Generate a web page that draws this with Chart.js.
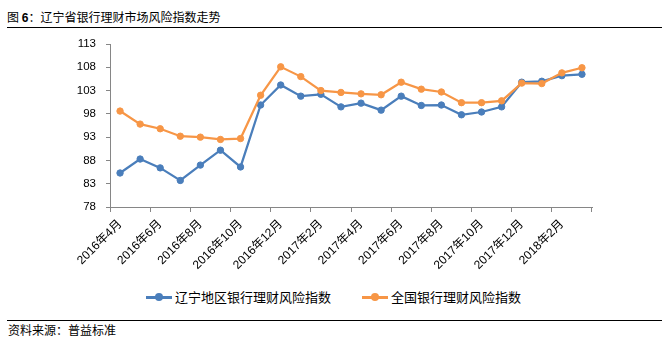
<!DOCTYPE html>
<html>
<head>
<meta charset="utf-8">
<title>辽宁省银行理财市场风险指数走势</title>
<script src="https://cdn.jsdelivr.net/npm/chart.js@4.4.1/dist/chart.umd.min.js"></script>
<style>
  body {
    margin: 0;
    width: 667px;
    height: 347px;
    position: relative;
    overflow: hidden;
    background: #fff;
    color: #000;
    font-family: "Noto Sans CJK SC", sans-serif;
  }
  .title {
    position: absolute;
    left: 7px;
    top: 10px;
    font-size: 12px;
    line-height: 14px;
    white-space: nowrap;
  }
  .title .num { font-family: "Liberation Sans", sans-serif; font-weight: bold; }
  .rule {
    position: absolute;
    left: 7px;
    width: 655px;
    height: 1px;
    background: #000;
  }
  #chart-box {
    position: absolute;
    left: 0;
    top: 0;
    width: 667px;
    height: 285px;
  }
  #legend {
    position: absolute;
    left: 0;
    top: 289px;
    width: 667px;
    display: flex;
    justify-content: center;
    gap: 31px;
    font-size: 13px;
    line-height: 16px;
  }
  .legend-item { display: flex; align-items: center; }
  .legend-mark {
    position: relative;
    width: 26px;
    height: 3px;
    margin-right: 3px;
  }
  .legend-mark i {
    position: absolute;
    left: 9px;
    top: -3px;
    width: 8px;
    height: 8px;
    border-radius: 50%;
  }
  .source {
    position: absolute;
    left: 8px;
    top: 322px;
    font-size: 12px;
    line-height: 15px;
  }
</style>
</head>
<body>
  <div class="title">图 <span class="num">6</span>：辽宁省银行理财市场风险指数走势</div>
  <div class="rule" style="top:27px"></div>
  <div id="chart-box"><canvas id="risk-chart"></canvas></div>
  <div id="legend"></div>
  <div class="rule" style="top:320px"></div>
  <div class="source">资料来源：普益标准</div>

<script>
// Monthly index values, Apr 2016 - Mar 2018
const months = [
    '2016年4月', '2016年5月', '2016年6月', '2016年7月', '2016年8月', '2016年9月',
    '2016年10月', '2016年11月', '2016年12月', '2017年1月', '2017年2月', '2017年3月',
    '2017年4月', '2017年5月', '2017年6月', '2017年7月', '2017年8月', '2017年9月',
    '2017年10月', '2017年11月', '2017年12月', '2018年1月', '2018年2月', '2018年3月'
];
const liaoningIndex = [
    85.3, 88.3, 86.4, 83.7, 87.0, 90.2, 86.6, 99.9, 104.2, 101.8, 102.2, 99.5,
    100.3, 98.8, 101.8, 99.8, 99.9, 97.8, 98.4, 99.5, 104.8, 105.0, 106.2, 106.5
];
const nationalIndex = [
    98.6, 95.8, 94.8, 93.2, 93.0, 92.5, 92.7, 102.0, 108.1, 106.0, 103.0, 102.6,
    102.3, 102.1, 104.8, 103.3, 102.7, 100.4, 100.4, 100.8, 104.6, 104.5, 106.8, 107.9
];
const seriesNames = ['辽宁地区银行理财风险指数', '全国银行理财风险指数'];
const seriesColors = ['#4a7ebb', '#f79646'];
const yTicks = { min: 78, max: 113, step: 5 };

const axisGray = '#868686';
const fontFamily = '"Liberation Sans", "Noto Sans CJK SC", sans-serif';

function lineSeries(label, data, color, order) {
    return {
        label: label,
        data: data,
        borderColor: color,
        backgroundColor: color,
        borderWidth: 2.25,
        pointRadius: 3.2,
        pointBorderWidth: 1,
        pointHoverRadius: 3.2,
        tension: 0,
        order: order
    };
}

const chart = new Chart(document.getElementById('risk-chart'), {
    type: 'line',
    data: {
        labels: months,
        datasets: [
            lineSeries(seriesNames[0], liaoningIndex, seriesColors[0], 1),
            lineSeries(seriesNames[1], nationalIndex, seriesColors[1], 0)
        ]
    },
    options: {
        responsive: true,
        maintainAspectRatio: false,
        animation: false,
        layout: { padding: { top: 44, right: 75, left: 0, bottom: 0 } },
        plugins: {
            legend: { display: false },
            tooltip: { enabled: false }
        },
        scales: {
            x: {
                type: 'category',
                offset: true,
                afterFit: scale => { scale.height = 78; },
                border: { color: axisGray, width: 1 },
                grid: {
                    offset: true,
                    drawOnChartArea: false,
                    tickLength: 5,
                    // tick marks only on every second month boundary
                    color: ctx => (ctx.index === undefined || ctx.index % 2 === 0) ? axisGray : 'rgba(0,0,0,0)'
                },
                ticks: {
                    autoSkip: false,
                    minRotation: 45,
                    maxRotation: 45,
                    padding: 5,
                    color: '#000',
                    font: { family: fontFamily, size: 12 },
                    callback: function(value, index) {
                        return index % 2 === 0 ? this.getLabelForValue(value) : '';
                    }
                }
            },
            y: {
                min: yTicks.min,
                max: yTicks.max,
                afterFit: scale => { scale.width = 110; },
                border: { color: axisGray, width: 1 },
                grid: {
                    drawOnChartArea: false,
                    tickLength: 4,
                    color: axisGray
                },
                ticks: {
                    stepSize: yTicks.step,
                    padding: 10,
                    color: '#000',
                    font: { family: fontFamily, size: 11.5 }
                }
            }
        }
    }
});

// Legend below the plot, built from the chart's datasets
const legendBox = document.getElementById('legend');
chart.data.datasets.forEach(ds => {
    const item = document.createElement('div');
    item.className = 'legend-item';
    item.innerHTML = `
        <span class="legend-mark" style="background:${ds.borderColor}"><i style="background:${ds.borderColor}"></i></span>
        <span>${ds.label}</span>
    `;
    legendBox.appendChild(item);
});
</script>
</body>
</html>
